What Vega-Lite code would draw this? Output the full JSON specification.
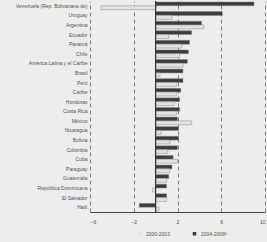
{
  "$schema": "https://vega.github.io/schema/vega-lite/v6.json",
  "width": 175,
  "height": 211,
  "autosize": "none",
  "padding": {"left": 90, "top": 1, "right": 2, "bottom": 30},
  "background": "#ececec",
  "config": {"view": {"stroke": null}, "font": "Liberation Sans"},
  "layer": [
    {
      "data": {"values": [
        {"pais": "Venezuela (Rep. Bolivariana de)", "periodo": "2004-2008ª", "valor": 9.0},
        {"pais": "Venezuela (Rep. Bolivariana de)", "periodo": "2000-2003", "valor": -5.0},
        {"pais": "Uruguay", "periodo": "2004-2008ª", "valor": 6.1},
        {"pais": "Uruguay", "periodo": "2000-2003", "valor": 1.5},
        {"pais": "Argentina", "periodo": "2004-2008ª", "valor": 4.2},
        {"pais": "Argentina", "periodo": "2000-2003", "valor": 4.4},
        {"pais": "Ecuador", "periodo": "2004-2008ª", "valor": 3.3},
        {"pais": "Ecuador", "periodo": "2000-2003", "valor": 1.2},
        {"pais": "Panamá", "periodo": "2004-2008ª", "valor": 3.1},
        {"pais": "Panamá", "periodo": "2000-2003", "valor": 2.4},
        {"pais": "Chile", "periodo": "2004-2008ª", "valor": 3.0},
        {"pais": "Chile", "periodo": "2000-2003", "valor": 2.2},
        {"pais": "América Latina y el Caribe", "periodo": "2004-2008ª", "valor": 2.9},
        {"pais": "América Latina y el Caribe", "periodo": "2000-2003", "valor": 2.5},
        {"pais": "Brasil", "periodo": "2004-2008ª", "valor": 2.5},
        {"pais": "Brasil", "periodo": "2000-2003", "valor": 0.4},
        {"pais": "Perú", "periodo": "2004-2008ª", "valor": 2.5},
        {"pais": "Perú", "periodo": "2000-2003", "valor": 1.9},
        {"pais": "Caribe", "periodo": "2004-2008ª", "valor": 2.3},
        {"pais": "Caribe", "periodo": "2000-2003", "valor": 1.9},
        {"pais": "Honduras", "periodo": "2004-2008ª", "valor": 2.2},
        {"pais": "Honduras", "periodo": "2000-2003", "valor": 1.7},
        {"pais": "Costa Rica", "periodo": "2004-2008ª", "valor": 2.2},
        {"pais": "Costa Rica", "periodo": "2000-2003", "valor": 1.9},
        {"pais": "México", "periodo": "2004-2008ª", "valor": 2.0},
        {"pais": "México", "periodo": "2000-2003", "valor": 3.3},
        {"pais": "Nicaragua", "periodo": "2004-2008ª", "valor": 2.1},
        {"pais": "Nicaragua", "periodo": "2000-2003", "valor": 0.5},
        {"pais": "Bolivia", "periodo": "2004-2008ª", "valor": 2.1},
        {"pais": "Bolivia", "periodo": "2000-2003", "valor": 1.3},
        {"pais": "Colombia", "periodo": "2004-2008ª", "valor": 2.0},
        {"pais": "Colombia", "periodo": "2000-2003", "valor": 1.1},
        {"pais": "Cuba", "periodo": "2004-2008ª", "valor": 1.6},
        {"pais": "Cuba", "periodo": "2000-2003", "valor": 2.0},
        {"pais": "Paraguay", "periodo": "2004-2008ª", "valor": 1.5},
        {"pais": "Paraguay", "periodo": "2000-2003", "valor": 1.3},
        {"pais": "Guatemala", "periodo": "2004-2008ª", "valor": 1.2},
        {"pais": "Guatemala", "periodo": "2000-2003", "valor": 1.0},
        {"pais": "República Dominicana", "periodo": "2004-2008ª", "valor": 1.0},
        {"pais": "República Dominicana", "periodo": "2000-2003", "valor": -0.3},
        {"pais": "El Salvador", "periodo": "2004-2008ª", "valor": 1.0},
        {"pais": "El Salvador", "periodo": "2000-2003", "valor": 1.0},
        {"pais": "Haití", "periodo": "2004-2008ª", "valor": -1.5},
        {"pais": "Haití", "periodo": "2000-2003", "valor": 0.3}
      ]},
      "mark": {"type": "bar", "stroke": "#8a8a8a", "strokeWidth": 0.5},
      "encoding": {
        "y": {
          "field": "pais", "type": "nominal", "sort": null,
          "scale": {"paddingInner": 0.2, "paddingOuter": 0.1},
          "axis": {"title": null, "domain": false, "ticks": false, "labelFontSize": 5, "labelColor": "#555", "labelPadding": 3, "labelLimit": 90}
        },
        "yOffset": {"field": "periodo", "sort": ["2004-2008ª", "2000-2003"]},
        "x": {
          "field": "valor", "type": "quantitative",
          "scale": {"domain": [-6, 10], "nice": false},
          "axis": {"values": [-6, -4, -2, 0, 2, 4, 6, 8, 10], "grid": true, "gridDash": [4, 3], "gridColor": "#666", "gridWidth": 0.8, "title": null, "labelFontSize": 5, "labelColor": "#555", "ticks": false, "labelPadding": 7, "domainColor": "#444"}
        },
        "color": {
          "field": "periodo", "type": "nominal",
          "scale": {"domain": ["2000-2003", "2004-2008ª"], "range": ["#e2e2e2", "#3c3c3c"]},
          "legend": {"title": null, "orient": "none", "legendX": 47, "legendY": 230, "direction": "horizontal", "labelFontSize": 5, "labelColor": "#555", "symbolType": "square", "symbolSize": 12, "symbolStrokeWidth": 0, "columnPadding": 22}
        }
      }
    },
    {
      "data": {"values": [{"cero": 0}]},
      "mark": {"type": "rule", "color": "#333", "strokeWidth": 1.2},
      "encoding": {"x": {"field": "cero", "type": "quantitative"}}
    }
  ]
}
